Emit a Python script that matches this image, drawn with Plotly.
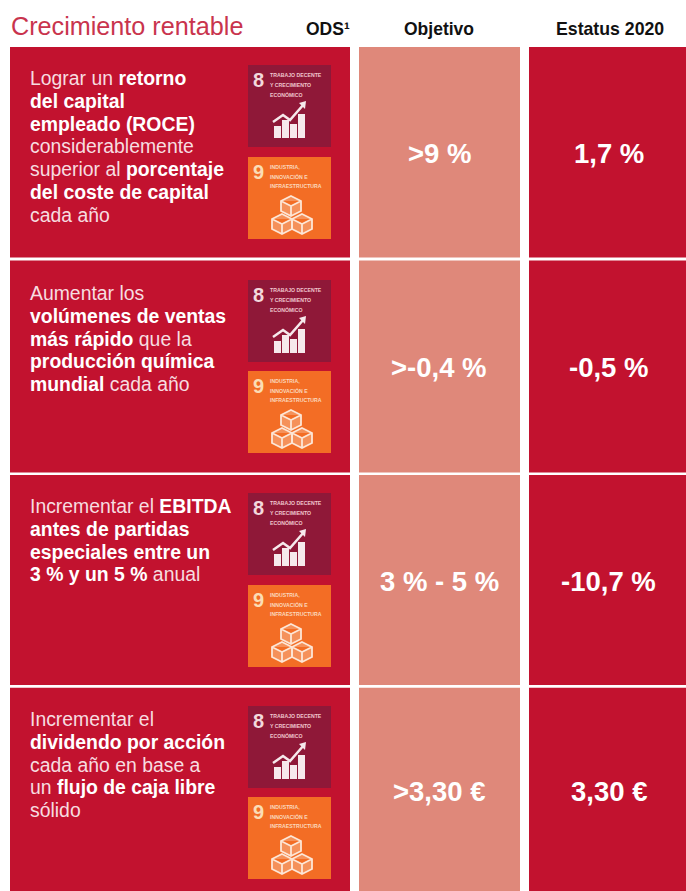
import plotly.graph_objects as go

# --- data
title = "Crecimiento rentable"
headers = ["ODS¹", "Objetivo", "Estatus 2020"]
goal_texts = [
    ["Lograr un <b>retorno</b>", "<b>del capital</b>", "<b>empleado (ROCE)</b>", "considerablemente",
     "superior al <b>porcentaje</b>", "<b>del coste de capital</b>", "cada año"],
    ["Aumentar los", "<b>volúmenes de ventas</b>", "<b>más rápido</b> que la", "<b>producción química</b>",
     "<b>mundial</b> cada año"],
    ["Incrementar el <b>EBITDA</b>", "<b>antes de partidas</b>", "<b>especiales entre un</b>",
     "<b>3 % y un 5 %</b> anual"],
    ["Incrementar el", "<b>dividendo por acción</b>", "cada año en base a", "un <b>flujo de caja libre</b>",
     "sólido"],
]
objetivo = [">9 %", ">-0,4 %", "3 % - 5 %", ">3,30 €"]
estatus = ["1,7 %", "-0,5 %", "-10,7 %", "3,30 €"]
sdg8_label = ["TRABAJO DECENTE", "Y CRECIMIENTO", "ECONÓMICO"]
sdg9_label = ["INDUSTRIA,", "INNOVACIÓN E", "INFRAESTRUCTURA"]

# --- layout geometry
RED, PINK, MAROON, ORANGE = "#C2122F", "#DF887A", "#8F1838", "#F36D25"
row_tops = [47, 260.5, 475, 687.7]
row_bots = [257.5, 472.5, 685, 891]
text_first = [78, 293, 506, 719]
mid_y = [153, 367, 581, 791]
icon_tops = [65, 280, 493, 706]
icon9_tops = [157, 371, 585, 797]
shapes, ann = [], []

def rect(x0, y0, x1, y1, c):
    shapes.append(dict(type="rect", x0=x0, x1=x1, y0=y0, y1=y1, fillcolor=c, line_width=0, layer="below"))

def text(x, y, s, size, color="white", anchor="left", va="middle"):
    ann.append(dict(x=x, y=y, text=s, showarrow=False, xanchor=anchor, yanchor=va,
                    align=anchor, borderpad=0,
                    font=dict(size=size, color=color, family="Liberation Sans")))

def icon8(x, y):
    rect(x, y, x + 83, y + 82, MAROON)
    text(x + 10, y + 15, "<b>8</b>", 20, "#F3D9DC", "center")
    for j, s in enumerate(sdg8_label):
        text(x + 21, y + 10 + j * 9.5, f"<b>{s}</b>", 5.2, "#F0C6CE")
    for bx, top in zip([26, 34, 42, 50], [61, 55, 59, 49]):
        rect(x + bx, y + top, x + bx + 7, y + 73, "#F6E9EC")
    shapes.append(dict(type="path", path=f"M{x+25},{y+57} L{x+35},{y+50} L{x+42},{y+55} L{x+56},{y+39}",
                       line=dict(color="#F6E9EC", width=2.5)))
    shapes.append(dict(type="path", path=f"M{x+51},{y+38} L{x+58},{y+36} L{x+57},{y+44} Z",
                       fillcolor="#F6E9EC", line_width=0))

def cube(cx, cy, s):
    c = "#FDE6D6"
    shapes.append(dict(type="path", line=dict(color=c, width=1.8), fillcolor="rgba(253,230,214,0.3)",
        path=f"M{cx},{cy-s} L{cx+s},{cy-s*0.5} L{cx+s},{cy+s*0.5} L{cx},{cy+s} L{cx-s},{cy+s*0.5} L{cx-s},{cy-s*0.5} Z "
             f"M{cx-s},{cy-s*0.5} L{cx},{cy} L{cx+s},{cy-s*0.5} M{cx},{cy} L{cx},{cy+s}"))

def icon9(x, y):
    rect(x, y, x + 83, y + 82, ORANGE)
    text(x + 10, y + 15, "<b>9</b>", 20, "#FBDDB5", "center")
    for j, s in enumerate(sdg9_label):
        text(x + 21, y + 10 + j * 9.5, f"<b>{s}</b>", 5.2, "#FBD9BE")
    cube(x + 43, y + 49, 10)
    cube(x + 34, y + 67, 10)
    cube(x + 54, y + 67, 10)

BOLD = '<span style="color:#FFFFFF;font-weight:bold">'

for i in range(4):
    t, b = row_tops[i], row_bots[i]
    rect(10, t, 350, b, RED)
    rect(359, t, 520, b, PINK)
    rect(529, t, 686, b, RED)
    for j, s in enumerate(goal_texts[i]):
        text(28.5, text_first[i] + j * 22.8, s.replace("<b>", BOLD).replace("</b>", "</span>"), 19.4, "#F7DDE0")
    icon8(248, icon_tops[i])
    icon9(248, icon9_tops[i])
    text(439, mid_y[i], f"<b>{objetivo[i]}</b>", 27.5, "white", "center")
    text(608.5, mid_y[i], f"<b>{estatus[i]}</b>", 27.5, "white", "center")

text(9.5, 26, title, 25.2, "#C9344D")
text(327.5, 29, f"<b>{headers[0]}</b>", 17.5, "#111111", "center")
text(439, 29, f"<b>{headers[1]}</b>", 17.5, "#111111", "center")
text(609.5, 29, f"<b>{headers[2]}</b>", 17.7, "#111111", "center")

fig = go.Figure(go.Scatter(x=[0], y=[0], mode="markers", marker=dict(opacity=0), hoverinfo="skip", showlegend=False))
fig.update_layout(width=686, height=891, margin=dict(l=0, r=0, t=0, b=0), paper_bgcolor="white", plot_bgcolor="white",
                  shapes=shapes, annotations=ann,
                  xaxis=dict(range=[0, 686], visible=False, fixedrange=True),
                  yaxis=dict(range=[891, 0], visible=False, fixedrange=True))
fig.write_html("out.html", config=dict(displayModeBar=False),
               post_script="document.body.style.margin='0';document.body.style.overflow='hidden';")
